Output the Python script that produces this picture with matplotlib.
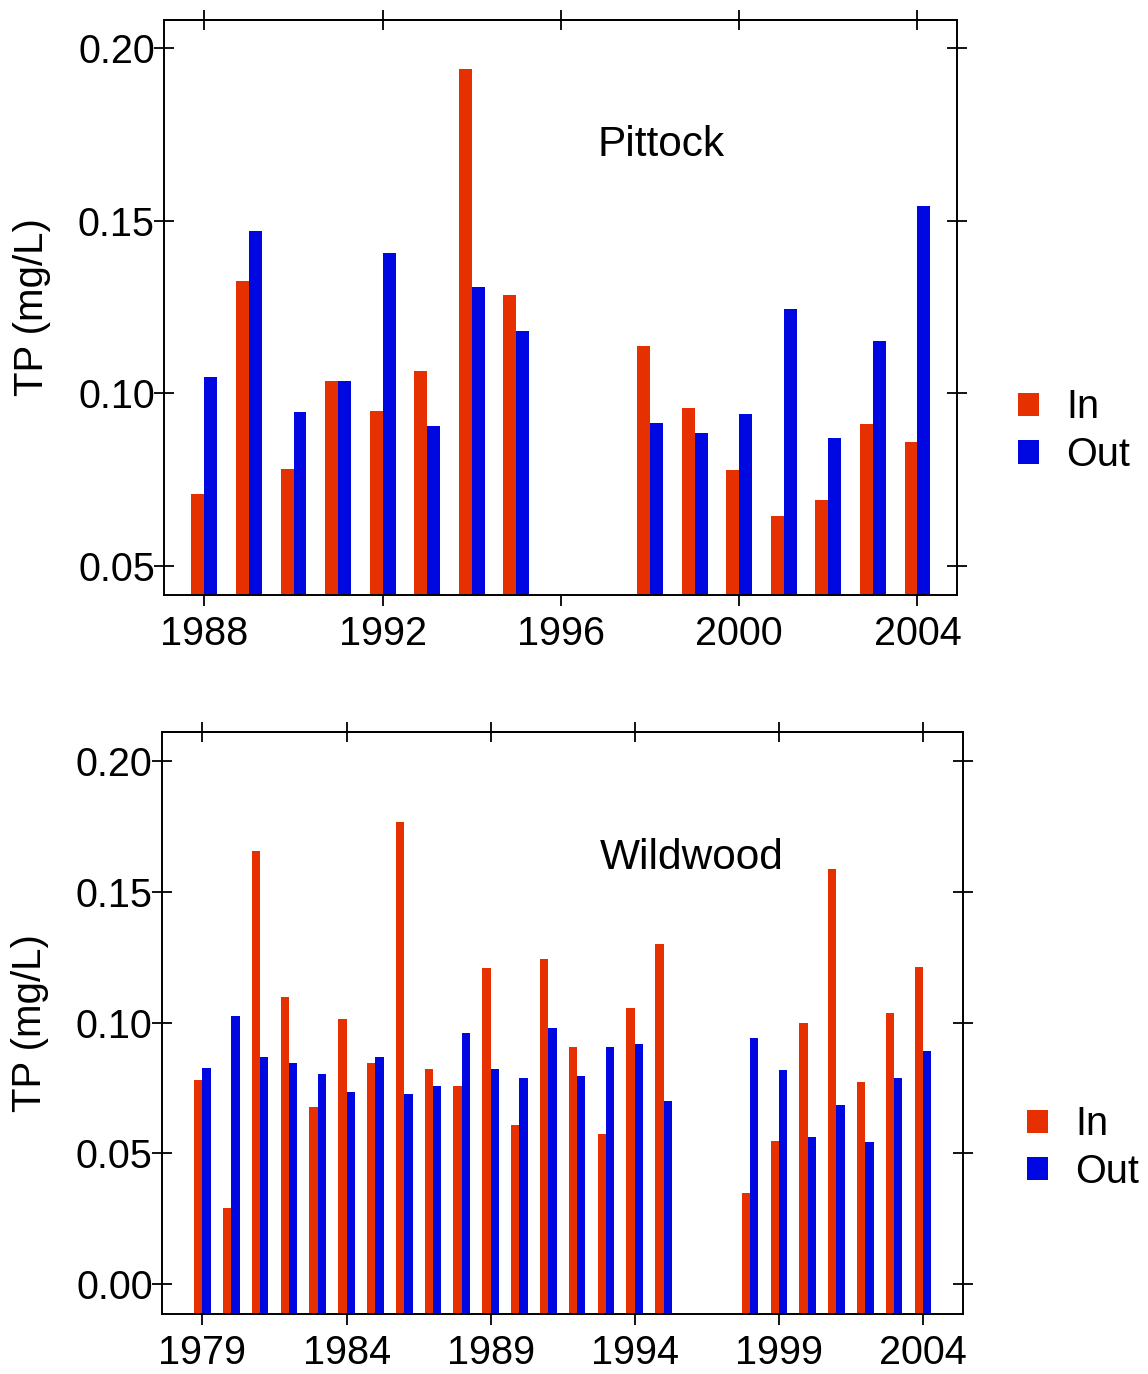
import matplotlib
matplotlib.use("Agg")
import matplotlib.pyplot as plt
import numpy as np

plt.rcParams['font.family'] = ['Liberation Sans', 'DejaVu Sans']

# ---------------- data ----------------
pit_years = [1988, 1989, 1990, 1991, 1992, 1993, 1994, 1995,
             1998, 1999, 2000, 2001, 2002, 2003, 2004]
pit_in = [0.0709, 0.1327, 0.0782, 0.1035, 0.0950, 0.1065, 0.1941, 0.1285,
          0.1138, 0.0958, 0.0777, 0.0646, 0.0690, 0.0910, 0.0859]
pit_out = [0.1048, 0.1471, 0.0946, 0.1036, 0.1406, 0.0906, 0.1307, 0.1181,
           0.0914, 0.0884, 0.0940, 0.1245, 0.0870, 0.1152, 0.1544]
pit_xticks = [1988, 1992, 1996, 2000, 2004]
pit_yticks = [0.05, 0.10, 0.15, 0.20]

wil_years = [1979, 1980, 1981, 1982, 1983, 1984, 1985, 1986, 1987, 1988,
             1989, 1990, 1991, 1992, 1993, 1994, 1995,
             1998, 1999, 2000, 2001, 2002, 2003, 2004]
wil_in = [0.0780, 0.0293, 0.1656, 0.1098, 0.0678, 0.1015, 0.0844, 0.1767,
          0.0822, 0.0759, 0.1207, 0.0608, 0.1241, 0.0908, 0.0573, 0.1057,
          0.1302, 0.0348, 0.0548, 0.0997, 0.1585, 0.0773, 0.1036, 0.1214]
wil_out = [0.0828, 0.1025, 0.0867, 0.0844, 0.0802, 0.0733, 0.0870, 0.0729,
           0.0758, 0.0962, 0.0824, 0.0787, 0.0981, 0.0796, 0.0908, 0.0917,
           0.0700, 0.0942, 0.0818, 0.0563, 0.0684, 0.0545, 0.0789, 0.0891]
wil_xticks = [1979, 1984, 1989, 1994, 1999, 2004]
wil_yticks = [0.00, 0.05, 0.10, 0.15, 0.20]

series_labels = ['In', 'Out']
ylabel = 'TP (mg/L)'

# ---------------- style ----------------
RED = '#E63000'
BLUE = '#0008E2'
BW = 0.29
TICKFS = 28.5
SPW = 1.4

fig = plt.figure(figsize=(11.48, 13.74), dpi=100)


def panel(rect, years, vin, vout, xticks, yticks, xlim, ylim, title,
          label_x, legend_anchor):
    ax = fig.add_axes(rect)
    base = ylim[0] - 0.05
    x = np.array(years, dtype=float)
    b1 = ax.bar(x, np.array(vin) - base, bottom=base, width=-BW, align='edge',
                color=RED, linewidth=0, label=series_labels[0])
    b2 = ax.bar(x, np.array(vout) - base, bottom=base, width=BW, align='edge',
                color=BLUE, linewidth=0, label=series_labels[1])
    ax.set_xlim(*xlim)
    ax.set_ylim(*ylim)
    ax.set_xticks(xticks)
    ax.set_xticklabels([str(t) for t in xticks])
    ax.set_yticks(yticks)
    ax.set_yticklabels(['%.2f' % t for t in yticks])
    for s in ax.spines.values():
        s.set_linewidth(SPW)
    ax.tick_params(axis='x', direction='out', length=7.6, width=1.3,
                   labelsize=TICKFS, pad=6.5, top=False)
    ax.tick_params(axis='y', direction='inout', length=14.4, width=1.3,
                   labelsize=TICKFS, pad=-0.5, left=True, right=True)
    sec = ax.secondary_xaxis('top')
    sec.set_xticks(xticks)
    sec.tick_params(direction='inout', length=14.4, width=1.3, labeltop=False)
    for s in sec.spines.values():
        s.set_linewidth(SPW)
    ax.set_ylabel(ylabel, fontsize=29)
    ax.yaxis.set_label_coords(label_x, 0.5)
    ax.text(0.547, 0.764, title, transform=ax.transAxes, fontsize=30.5,
            ha='left', va='baseline')
    ax.legend(handles=[b1, b2], loc='center left', bbox_to_anchor=legend_anchor,
              frameon=False, fontsize=28.5, handlelength=0.52, handleheight=0.52,
              handletextpad=0.7, labelspacing=0.25, borderpad=0,
              borderaxespad=0)
    return ax


panel([0.14312, 0.56696, 0.69024, 0.41849], pit_years, pit_in, pit_out,
      pit_xticks, pit_yticks, (1987.10, 2004.88), (0.0416, 0.2082),
      'Pittock', -0.143, (1.0777, 0.285))

panel([0.14111, 0.04367, 0.69800, 0.42380], wil_years, wil_in, wil_out,
      wil_xticks, wil_yticks, (1977.595, 2005.40), (-0.0113, 0.2111),
      'Wildwood', -0.141, (1.0795, 0.285))

fig.savefig('out.png', dpi=100)
